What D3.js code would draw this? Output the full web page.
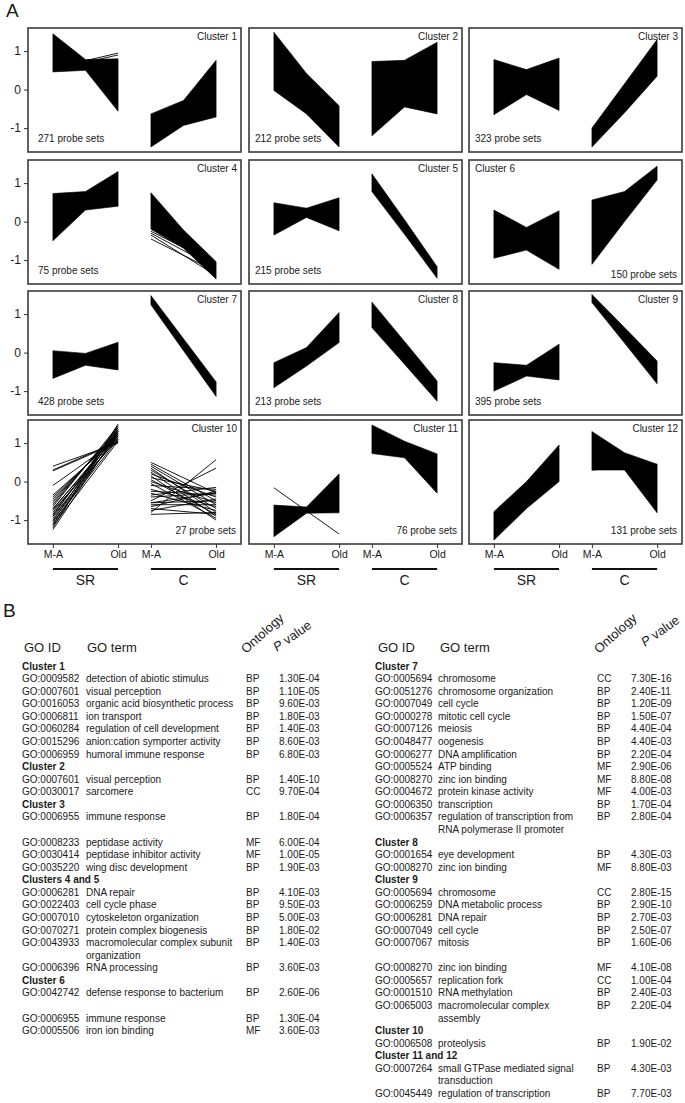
<!DOCTYPE html>
<html><head><meta charset="utf-8">
<script src="https://cdn.jsdelivr.net/npm/d3@7"></script>
<style>body{margin:0;background:#fff} svg{display:block;font-family:"Liberation Sans",Arial,Helvetica,sans-serif}</style>
</head><body>
<svg id="fig" width="685" height="1103"></svg>
<script>
// ---------------- DATA (panel A) ----------------
const clusterNames = ["Cluster 1","Cluster 2","Cluster 3","Cluster 4","Cluster 5","Cluster 6","Cluster 7","Cluster 8","Cluster 9","Cluster 10","Cluster 11","Cluster 12"];
const probeSets = [271,212,323,75,215,150,428,213,395,27,76,131];
const groups = ["SR","C"];
const timePoints = ["M-A","Old"];
const yTicks = [-1,0,1];
// bundle envelopes (standardised expression) at M-A, midway, Old
const srUpper = [[1.45,0.78,0.80],[1.49,0.42,-0.42],[0.78,0.52,0.82],[0.73,0.78,1.30],[0.49,0.35,0.62],[0.30,-0.15,0.28],[0.05,-0.02,0.27],[-0.26,0.13,1.04],[-0.26,-0.33,0.22],null,[-0.61,-0.66,0.20],[-0.78,0.00,0.95]];
const srLower = [[0.46,0.50,-0.56],[-0.02,-0.63,-1.49],[-0.65,-0.13,-0.54],[-0.50,0.30,0.40],[-0.35,0.11,-0.24],[-0.95,-0.74,-1.24],[-0.67,-0.33,-0.45],[-0.91,-0.35,0.26],[-1.00,-0.61,-0.71],null,[-1.43,-0.82,-0.81],[-1.52,-0.70,0.00]];
const cUpper = [[-0.63,-0.28,0.76],[0.73,0.76,1.23],[-1.00,0.15,1.30],[0.75,-0.22,-1.04],[1.24,0.05,-1.17],[0.56,0.78,1.44],[1.48,0.36,-0.76],[1.31,0.29,-0.74],[1.51,0.65,-0.22],null,[1.47,1.05,0.72],[1.30,0.75,0.45]];
const cLower = [[-1.49,-0.93,-0.71],[-1.20,-0.45,-0.63],[-1.49,-0.60,0.35],[-0.20,-0.69,-1.49],[0.78,-0.33,-1.47],[-1.11,0.00,1.08],[1.24,0.05,-1.14],[0.65,-0.30,-1.26],[1.30,0.25,-0.81],null,[0.73,0.62,-0.30],[0.30,0.30,-0.81]];
// individual profiles: [cluster index, group, M-A value, Old value]
const singleLines = [
 [0,"SR",0.55,0.95],[0,"SR",0.52,0.90],
 [3,"C",-0.25,-1.10],[3,"C",-0.30,-1.20],[3,"C",-0.45,-1.30],[3,"C",-0.35,-1.40],
 [10,"SR",-0.16,-1.36],[11,"C",0.30,0.45]
];
const c10SR_MA  = [0.40,0.30,0.28,-0.10,-0.35,-0.40,-0.45,-0.50,-0.55,-0.60,-0.65,-0.70,-0.72,-0.75,-0.80,-0.85,-0.88,-0.90,-0.95,-1.00,-1.02,-1.05,-1.10,-1.12,-1.15,-1.20,-1.25];
const c10SR_Old = [1.00,1.05,1.02,1.10,1.15,1.20,1.25,1.30,1.35,1.40,1.45,1.20,1.30,1.10,1.25,1.35,1.40,1.15,1.30,1.20,1.45,1.10,1.35,1.25,1.05,1.50,1.30];
const c10C_MA   = [0.50,0.45,0.40,0.35,0.30,0.25,0.20,0.15,0.10,0.05,0.00,-0.05,-0.10,-0.20,-0.25,-0.30,-0.35,-0.40,-0.50,-0.55,-0.60,-0.65,-0.70,-0.75,-0.80,-0.85,-0.55];
const c10C_Old  = [-0.30,-0.50,-0.60,-0.80,-0.70,-0.90,-0.40,-1.00,-0.25,-0.85,-0.55,-0.95,-0.20,-0.65,-0.35,-0.75,-0.15,-0.30,0.35,-0.50,-0.60,-0.25,-0.85,-0.45,0.57,-0.80,-0.30];

// ---------------- DATA (panel B) ----------------
const tableHeaders = ["GO ID","GO term","Ontology","value"];
const leftRows = [
 ["Cluster 1"],
 ["GO:0009582","detection of abiotic stimulus","BP","1.30E-04"],
 ["GO:0007601","visual perception","BP","1.10E-05"],
 ["GO:0016053","organic acid biosynthetic process","BP","9.60E-03"],
 ["GO:0006811","ion transport","BP","1.80E-03"],
 ["GO:0060284","regulation of cell development","BP","1.40E-03"],
 ["GO:0015296","anion:cation symporter activity","BP","8.60E-03"],
 ["GO:0006959","humoral immune response","BP","6.80E-03"],
 ["Cluster 2"],
 ["GO:0007601","visual perception","BP","1.40E-10"],
 ["GO:0030017","sarcomere","CC","9.70E-04"],
 ["Cluster 3"],
 ["GO:0006955","immune response","BP","1.80E-04"],
 [],
 ["GO:0008233","peptidase activity","MF","6.00E-04"],
 ["GO:0030414","peptidase inhibitor activity","MF","1.00E-05"],
 ["GO:0035220","wing disc development","BP","1.90E-03"],
 ["Clusters 4 and 5"],
 ["GO:0006281","DNA repair","BP","4.10E-03"],
 ["GO:0022403","cell cycle phase","BP","9.50E-03"],
 ["GO:0007010","cytoskeleton organization","BP","5.00E-03"],
 ["GO:0070271","protein complex biogenesis","BP","1.80E-02"],
 ["GO:0043933","macromolecular complex subunit","BP","1.40E-03"],
 ["","organization","",""],
 ["GO:0006396","RNA processing","BP","3.60E-03"],
 ["Cluster 6"],
 ["GO:0042742","defense response to bacterium","BP","2.60E-06"],
 [],
 ["GO:0006955","immune response","BP","1.30E-04"],
 ["GO:0005506","iron ion binding","MF","3.60E-03"]
];
const rightRows = [
 ["Cluster 7"],
 ["GO:0005694","chromosome","CC","7.30E-16"],
 ["GO:0051276","chromosome organization","BP","2.40E-11"],
 ["GO:0007049","cell cycle","BP","1.20E-09"],
 ["GO:0000278","mitotic cell cycle","BP","1.50E-07"],
 ["GO:0007126","meiosis","BP","4.40E-04"],
 ["GO:0048477","oogenesis","BP","4.40E-03"],
 ["GO:0006277","DNA amplification","BP","2.20E-04"],
 ["GO:0005524","ATP binding","MF","2.90E-06"],
 ["GO:0008270","zinc ion binding","MF","8.80E-08"],
 ["GO:0004672","protein kinase activity","MF","4.00E-03"],
 ["GO:0006350","transcription","BP","1.70E-04"],
 ["GO:0006357","regulation of transcription from","BP","2.80E-04"],
 ["","RNA polymerase II promoter","",""],
 ["Cluster 8"],
 ["GO:0001654","eye development","BP","4.30E-03"],
 ["GO:0008270","zinc ion binding","MF","8.80E-03"],
 ["Cluster 9"],
 ["GO:0005694","chromosome","CC","2.80E-15"],
 ["GO:0006259","DNA metabolic process","BP","2.90E-10"],
 ["GO:0006281","DNA repair","BP","2.70E-03"],
 ["GO:0007049","cell cycle","BP","2.50E-07"],
 ["GO:0007067","mitosis","BP","1.60E-06"],
 [],
 ["GO:0008270","zinc ion binding","MF","4.10E-08"],
 ["GO:0005657","replication fork","CC","1.00E-04"],
 ["GO:0001510","RNA methylation","BP","2.40E-03"],
 ["GO:0065003","macromolecular complex","BP","2.20E-04"],
 ["","assembly","",""],
 ["Cluster 10"],
 ["GO:0006508","proteolysis","BP","1.90E-02"],
 ["Cluster 11 and 12"],
 ["GO:0007264","small GTPase mediated signal","BP","4.30E-03"],
 ["","transduction","",""],
 ["GO:0045449","regulation of transcription","BP","7.70E-03"]
];

// ---------------- DRAW ----------------
const ink = "#1a1a1a";
const svg = d3.select("#fig");
svg.append("text").attr("x",6).attr("y",17).attr("font-size",19).attr("fill",ink).text("A");

const W = 213, H = 124;
const colX = [28,249,469], rowY = [28,160,291,420];
const y = d3.scaleLinear().domain([-1.62,1.6]).range([H,0]);
const xg = d3.scaleBand().domain(groups).range([0,W]).paddingInner(0.335).paddingOuter(0.254);
const xt = d3.scalePoint().domain(timePoints).range([0,xg.bandwidth()]);
const xf = g => d3.scaleLinear().domain([0,1]).range([xg(g)+xt("M-A"), xg(g)+xt("Old")]);
const fracs = [0,0.5,1];

const area = g => d3.area().x(d=>xf(g)(d.f)).y0(d=>y(d.lo)).y1(d=>y(d.hi));
const line = g => d3.line().x(d=>xf(g)(d.f)).y(d=>y(d.v));

clusterNames.forEach((name,i)=>{
  const r = Math.floor(i/3), c = i%3;
  const p = svg.append("g").attr("transform",`translate(${colX[c]},${rowY[r]})`);
  const bundles = [["SR",srUpper[i],srLower[i]],["C",cUpper[i],cLower[i]]];
  bundles.forEach(([g,up,lo])=>{
    if(!up) return;
    const pts = fracs.map((f,k)=>({f,hi:up[k],lo:lo[k]}));
    p.append("path").attr("d",area(g)(pts)).attr("fill","#000").attr("stroke","#000").attr("stroke-width",0.6);
  });
  singleLines.filter(s=>s[0]===i).forEach(s=>{
    p.append("path").attr("d",line(s[1])([{f:0,v:s[2]},{f:1,v:s[3]}])).attr("fill","none").attr("stroke","#000").attr("stroke-width",0.9);
  });
  if(i===9){
    c10SR_MA.forEach((v,k)=>p.append("path").attr("d",line("SR")([{f:0,v},{f:1,v:c10SR_Old[k]}])).attr("fill","none").attr("stroke","#000").attr("stroke-width",0.9));
    c10C_MA.forEach((v,k)=>p.append("path").attr("d",line("C")([{f:0,v},{f:1,v:c10C_Old[k]}])).attr("fill","none").attr("stroke","#000").attr("stroke-width",0.9));
  }
  p.append("rect").attr("width",W).attr("height",H).attr("fill","none").attr("stroke","#3a3a3a").attr("stroke-width",1.6);
  // labels
  const topLeft = (i===5);
  p.append("text").attr("x",topLeft?6:W-4).attr("y",12).attr("text-anchor",topLeft?"start":"end")
    .attr("font-size",10).attr("fill",ink).text(name);
  const bottomRight = [5,9,10,11].includes(i);
  p.append("text").attr("x",bottomRight?W-5:(c===0?10:6)).attr("y",i===5?H-6:H-10)
    .attr("text-anchor",bottomRight?"end":"start").attr("font-size",10).attr("fill",ink)
    .text(probeSets[i]+" probe sets");
  // y axis on first column
  if(c===0){
    const ax = p.append("g").call(d3.axisLeft(y).tickValues(yTicks).tickSize(4).tickPadding(3).tickFormat(d=>String(d)));
    ax.select(".domain").remove();
    ax.selectAll("text").attr("font-size",12).attr("fill",ink).style("font-family","inherit");
    ax.selectAll("line").attr("stroke","#333");
  }
  // x axis on bottom row
  if(r===3){
    groups.forEach(g=>{
      const ax = p.append("g").attr("transform",`translate(${xg(g)},${H})`)
        .call(d3.axisBottom(xt).tickSize(4).tickPadding(3));
      ax.select(".domain").remove();
      ax.selectAll("text").attr("font-size",10.5).attr("fill",ink).style("font-family","inherit");
      ax.selectAll("line").attr("stroke","#333");
      p.append("line").attr("x1",xg(g)+xt("M-A")).attr("x2",xg(g)+xt("Old"))
        .attr("y1",H+25).attr("y2",H+25).attr("stroke","#111").attr("stroke-width",2);
      p.append("text").attr("x",xg(g)+xg.bandwidth()/2).attr("y",H+41).attr("text-anchor","middle")
        .attr("font-size",14).attr("fill",ink).text(g);
    });
  }
});

// ---------------- Panel B ----------------
svg.append("text").attr("x",3).attr("y",617).attr("font-size",19).attr("fill",ink).text("B");
const tableCols = [
  {rows:leftRows, id:22, term:86, ont:246, pv:279, hId:24, hTerm:87, oX:246, oY:654, pX:277, pY:652},
  {rows:rightRows, id:375, term:438, ont:597, pv:631, hId:378, hTerm:440, oX:599, oY:654, pX:645, pY:647}
];
const rowYc = d3.scaleLinear().domain([0,1]).range([666,678.57]);
tableCols.forEach(tc=>{
  const g = svg.append("g").attr("fill",ink);
  g.append("text").attr("x",tc.hId).attr("y",652).attr("font-size",13).text(tableHeaders[0]);
  g.append("text").attr("x",tc.hTerm).attr("y",652).attr("font-size",13).text(tableHeaders[1]);
  g.append("text").attr("transform",`translate(${tc.oX},${tc.oY}) rotate(-42)`).attr("font-size",13).text(tableHeaders[2]);
  const pv = g.append("text").attr("transform",`translate(${tc.pX},${tc.pY}) rotate(-35)`).attr("font-size",13);
  pv.append("tspan").attr("font-style","italic").text("P");
  pv.append("tspan").text(" "+tableHeaders[3]);
  tc.rows.forEach((row,k)=>{
    const yy = rowYc(k)+3.6;
    if(row.length===1){
      g.append("text").attr("x",tc.id).attr("y",yy).attr("font-size",10).attr("font-weight","bold").text(row[0]);
    } else if(row.length===4){
      g.append("text").attr("x",tc.id).attr("y",yy).attr("font-size",10).text(row[0]);
      g.append("text").attr("x",tc.term).attr("y",yy).attr("font-size",10).text(row[1]);
      g.append("text").attr("x",tc.ont).attr("y",yy).attr("font-size",10).text(row[2]);
      g.append("text").attr("x",tc.pv).attr("y",yy).attr("font-size",10).text(row[3]);
    }
  });
});
</script>
</body></html>
